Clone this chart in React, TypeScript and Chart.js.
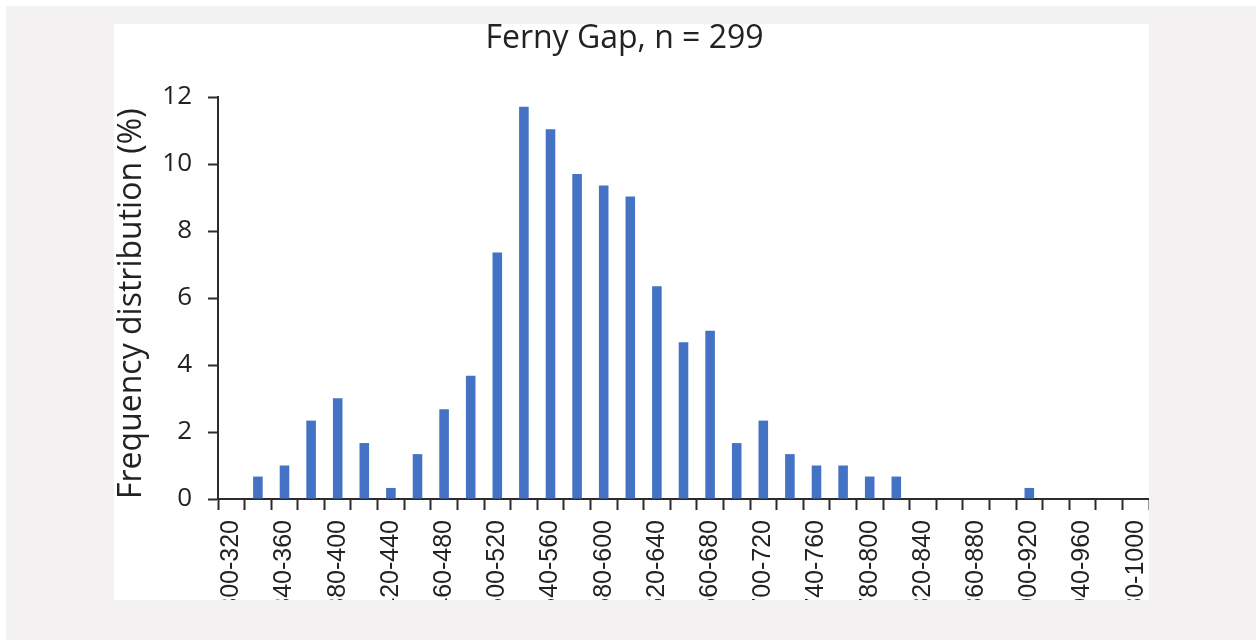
import React, { useEffect, useRef } from 'react';
import { Chart, registerables } from 'chart.js';

Chart.register(...registerables);

const categories: string[] = [
  '300-320', '320-340', '340-360', '360-380', '380-400', '400-420', '420-440',
  '440-460', '460-480', '480-500', '500-520', '520-540', '540-560', '560-580',
  '580-600', '600-620', '620-640', '640-660', '660-680', '680-700', '700-720',
  '720-740', '740-760', '760-780', '780-800', '800-820', '820-840', '840-860',
  '860-880', '880-900', '900-920', '920-940', '940-960', '960-980', '980-1000',
];

const frequency: number[] = [
  0, 0.67, 1.0, 2.34, 3.01, 1.67, 0.33,
  1.34, 2.68, 3.68, 7.36, 11.71, 11.04, 9.7,
  9.36, 9.03, 6.35, 4.68, 5.02, 1.67, 2.34,
  1.34, 1.0, 1.0, 0.67, 0.67, 0, 0,
  0, 0, 0.33, 0, 0, 0, 0,
];

const yMin = 0;
const yMax = 12;
const yStep = 2;

const titleText = 'Ferny Gap, n = 299';
const yTitleText = 'Frequency distribution (%)';

const PANEL_W = 1035;
const PANEL_H = 576;
const SHIFT = 14;
const CANVAS_W = PANEL_W + SHIFT;

export default function App() {
  const ref = useRef<HTMLCanvasElement | null>(null);

  useEffect(() => {
    if (!ref.current) return;
    const axisColor = '#2b2b2b';
    const textColor = '#222222';
    const chart = new Chart(ref.current, {
      type: 'bar',
      data: {
        labels: categories,
        datasets: [
          {
            data: frequency,
            backgroundColor: '#4472C4',
            borderWidth: 0,
            barPercentage: 0.36,
            categoryPercentage: 1,
          },
        ],
      },
      options: {
        animation: false,
        responsive: false,
        maintainAspectRatio: false,
        layout: { padding: 0 },
        plugins: {
          legend: { display: false },
          tooltip: { enabled: false },
          title: {
            display: true,
            text: titleText,
            color: textColor,
            font: { family: 'Open Sans', size: 32, weight: 'normal' },
            padding: { top: -4, bottom: 38.6 },
          },
        },
        scales: {
          x: {
            grid: {
              display: true,
              drawOnChartArea: false,
              drawTicks: true,
              tickLength: 11,
              tickWidth: 2,
              tickColor: axisColor,
              offset: true,
            },
            border: { display: true, color: axisColor, width: 2 },
            ticks: {
              autoSkip: false,
              minRotation: 90,
              maxRotation: 90,
              padding: 10,
              color: textColor,
              font: { family: 'Liberation Sans', size: 25 },
              callback: (_v: any, i: number) => (i % 2 === 0 ? categories[i] : ''),
            },
            afterFit: (s: any) => {
              s.height = 101;
              s.paddingLeft = 0;
              s.paddingRight = 0;
            },
          },
          y: {
            min: yMin,
            max: yMax,
            ticks: {
              stepSize: yStep,
              padding: 16,
              color: textColor,
              font: { family: 'Open Sans', size: 26 },
            },
            grid: {
              display: true,
              drawOnChartArea: false,
              drawTicks: true,
              tickLength: 10,
              tickWidth: 2,
              tickColor: axisColor,
            },
            border: { display: true, color: axisColor, width: 2 },
            title: {
              display: true,
              text: yTitleText,
              align: 'start',
              color: textColor,
              font: { family: 'Open Sans', size: 32, weight: 'normal' },
              padding: { top: 13, bottom: 0 },
            },
            afterFit: (s: any) => {
              s.width = 104 + SHIFT;
            },
          },
        },
      },
    } as any);
    return () => chart.destroy();
  }, []);

  return (
    <div
      style={{
        position: 'fixed',
        left: 6,
        top: 6,
        width: 1250,
        height: 634,
        background: '#f3f1f2',
      }}
    >
      <div
        style={{
          position: 'absolute',
          left: 108,
          top: 18,
          width: PANEL_W,
          height: PANEL_H,
          background: '#ffffff',
          overflow: 'hidden',
        }}
      >
        <canvas
          ref={ref}
          width={CANVAS_W}
          height={PANEL_H}
          style={{
            display: 'block',
            position: 'absolute',
            left: -SHIFT,
            top: 0,
            width: CANVAS_W,
            height: PANEL_H,
          }}
        />
      </div>
    </div>
  );
}
